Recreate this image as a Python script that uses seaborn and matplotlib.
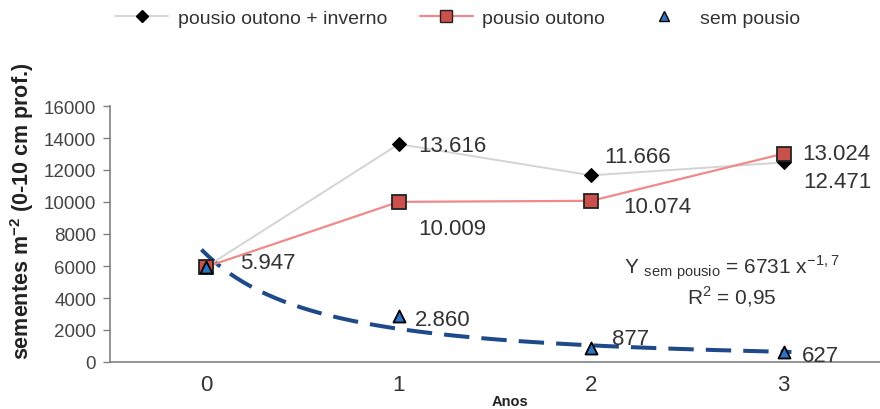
import numpy as np
import pandas as pd
import matplotlib
matplotlib.use('Agg')
import matplotlib.pyplot as plt
from matplotlib.lines import Line2D
import seaborn as sns

anos = [0, 1, 2, 3]
outono_inverno = [5947, 13616, 11666, 12471]
outono = [5947, 10009, 10074, 13024]
sem_pousio = [5947, 2860, 877, 627]

# power trendline shown on the chart (Excel x runs 1..4 for categories 0..3)
trend_a = 6731
trend_b = -1.7

label_texts = {
    'outono_inverno': ['', '13.616', '11.666', '12.471'],
    'outono': ['', '10.009', '10.074', '13.024'],
    'sem_pousio': ['5.947', '2.860', '877', '627'],
}
# pixel offsets of the value labels (left edge, vertical centre)
label_offsets = {
    'outono_inverno': [None, (19, -1), (13, 19), (19, -19)],
    'outono': [None, (19, -27), (32, -6), (18, 0)],
    'sem_pousio': [(34, 4), (16, -3), (21, 9), (18, -4)],
}

sns.set_style('white')
plt.rcParams['font.family'] = ['Liberation Sans', 'DejaVu Sans']
plt.rcParams['mathtext.fontset'] = 'custom'
plt.rcParams['mathtext.rm'] = 'Liberation Sans'
plt.rcParams['mathtext.bf'] = 'Liberation Sans:bold'

df = pd.DataFrame({
    'ano': anos,
    'outono_inverno': outono_inverno,
    'outono': outono,
    'sem_pousio': sem_pousio,
})

fig = plt.figure(figsize=(8.8, 4.1), dpi=100)
ax = fig.add_axes([110 / 880, 47 / 410, 770 / 880, 256 / 410])

gray_line = '#d4d4d4'
pink_line = '#f08a8a'
square_red = '#c9504b'
tri_blue = '#2e74c4'
dash_blue = '#1f4a8a'

xt = np.linspace(0.975, 4.04, 200)
trend = pd.DataFrame({'x': xt - 1, 'y': trend_a * xt ** trend_b})
sns.lineplot(data=trend, x='x', y='y', ax=ax, color=dash_blue, lw=2.9,
             dashes=False, zorder=2)
ax.lines[-1].set_dashes([6.3, 3])

sns.lineplot(data=df, x='ano', y='outono_inverno', ax=ax, color=gray_line,
             lw=1.4, marker='D', markersize=7, markerfacecolor='black',
             markeredgecolor='black', zorder=3, clip_on=False)
sns.lineplot(data=df, x='ano', y='outono', ax=ax, color=pink_line,
             lw=1.6, marker='s', markersize=9.5, markerfacecolor=square_red,
             markeredgecolor='#222222', markeredgewidth=1.3, zorder=4,
             clip_on=False)
sns.scatterplot(data=df, x='ano', y='sem_pousio', ax=ax, marker='^', s=75,
                color=tri_blue, edgecolor='black', linewidth=1.3, zorder=5,
                clip_on=False)

series = {'outono_inverno': outono_inverno, 'outono': outono,
          'sem_pousio': sem_pousio}
for key, vals in series.items():
    for x, v, txt, off in zip(anos, vals, label_texts[key], label_offsets[key]):
        if not txt:
            continue
        ax.annotate(txt, (x, v), xytext=off, textcoords='offset pixels',
                    ha='left', va='center', fontsize=16, color='#333333')

eq = r'Y $\mathregular{_{sem\ pousio}}$ = 6731 x$^{\mathregular{-1,7}}$'
r2 = r'R$^{\mathregular{2}}$ = 0,95'
ax.text(2.73, 5100, eq + '\n' + r2, ha='center', va='center',
        multialignment='center', linespacing=1.05, fontsize=15,
        color='#333333')

ax.set_xlim(-0.5, 3.45)
ax.set_ylim(0, 16000)
ax.set_xticks([0, 1, 2, 3])
ax.set_xticklabels(['0', '1', '2', '3'], fontsize=16, color='#333333')
ax.set_xticks([-0.5, 0.5, 1.5, 2.5, 3.5], minor=True)
ax.tick_params(axis='x', which='major', length=0, pad=9)
ax.tick_params(axis='x', which='minor', length=5, color='#808080', width=1)
ax.set_yticks(range(0, 16001, 2000))
ax.tick_params(axis='y', length=5, color='#808080', width=1, labelsize=13.5,
               labelcolor='#444444', pad=5, left=True)
for s in ['top', 'right']:
    ax.spines[s].set_visible(False)
for s in ['left', 'bottom']:
    ax.spines[s].set_color('#808080')
    ax.spines[s].set_linewidth(1.2)

ax.set_xlabel('')
ax.set_ylabel(r'sementes m$^{\mathbf{-2}}$ (0-10 cm prof.)',
              fontsize=15.5, fontweight='bold', color='#222222')
ax.yaxis.set_label_coords(-74 / 770, (363 - 211) / 256)
fig.text(510 / 880, 1 - 402 / 410, 'Anos', ha='center', va='center',
         fontsize=10.5, fontweight='bold', color='#222222')

handles = [
    Line2D([], [], color=gray_line, lw=1.4, marker='D', markersize=6,
           markerfacecolor='black', markeredgecolor='black'),
    Line2D([], [], color=pink_line, lw=1.6, marker='s', markersize=8,
           markerfacecolor=square_red, markeredgecolor='#222222'),
    Line2D([], [], color='none', marker='^', markersize=7,
           markerfacecolor=tri_blue, markeredgecolor='black'),
]
fig.legend(handles, ['pousio outono + inverno', 'pousio outono', 'sem pousio'],
           loc='center', bbox_to_anchor=(458 / 880, 1 - 19 / 410), ncol=3,
           frameon=False, fontsize=14, handlelength=2.7, columnspacing=1.7,
           handletextpad=0.5, labelcolor='#333333')

fig.savefig('out.png', dpi=100)
